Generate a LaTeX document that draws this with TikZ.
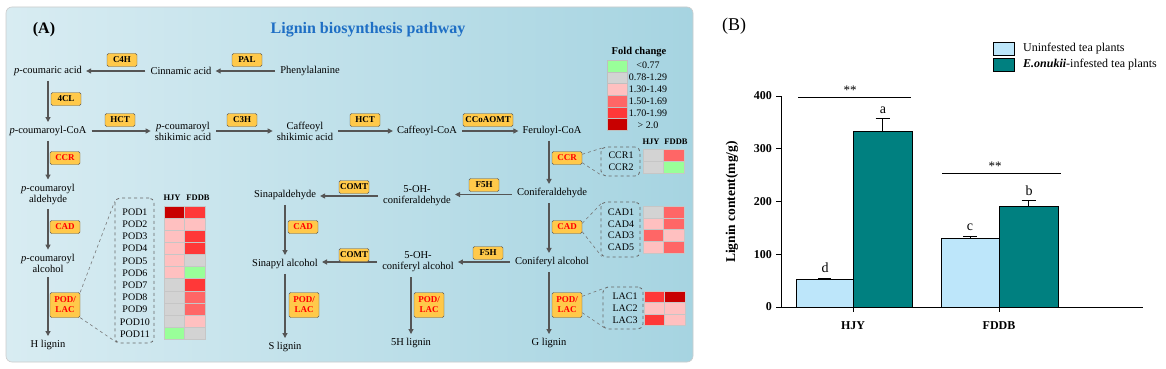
\documentclass[tikz,border=0pt]{standalone}
\usepackage{fontspec}
\setmainfont{Liberation Serif}
\usetikzlibrary{arrows.meta,calc}
\definecolor{fcG}{HTML}{99FF99}
\definecolor{fcN}{HTML}{D3D3D3}
\definecolor{fcP}{HTML}{FFC0C0}
\definecolor{fcM}{HTML}{FF6666}
\definecolor{fcR}{HTML}{FF3838}
\definecolor{fcD}{HTML}{C80000}
\definecolor{enzY}{HTML}{FFC94A}
\definecolor{arrG}{HTML}{555555}
\definecolor{ttl}{HTML}{1F6FC5}
\definecolor{bgL}{HTML}{D8ECF2}
\definecolor{bgR}{HTML}{A6D4E1}
\definecolor{uninf}{HTML}{BDE6FA}
\definecolor{infc}{HTML}{008080}
\newcommand\hmap[4]{%
  \foreach \ca/\cb [count=\ii from 0] in {#4} {
    \filldraw[fill=\ca, draw=gray!45, line width=0.4pt] (#1,{#2+\ii*#3}) rectangle ++(20.5,#3);
    \filldraw[fill=\cb, draw=gray!45, line width=0.4pt] ({#1+20.5},{#2+\ii*#3}) rectangle ++(20.5,#3);
  }}
\begin{document}
\begin{tikzpicture}[x=1pt,y=-1pt,
  met/.style={font=\fontsize{10.5}{11}\selectfont, align=center, inner sep=2pt},
  enz/.style={draw=arrG, fill=enzY, rounded corners=1.5pt, font=\bfseries\fontsize{9}{9.5}\selectfont,
     minimum width=30pt, minimum height=13pt, inner sep=1pt},
  enzr/.style={enz, text=red},
  pl/.style={enzr, minimum height=25pt, align=center, font=\bfseries\fontsize{9}{10}\selectfont},
  arr/.style={draw=arrG, line width=1.1pt, -{Triangle[length=5pt,width=5pt]}, shorten <=3pt, shorten >=2pt},
  dbox/.style={draw=arrG!90, dashed, line width=0.8pt, rounded corners=5pt, inner sep=0pt},
  dconn/.style={draw=arrG!80, dashed, line width=0.6pt},
  glab/.style={font=\fontsize{10}{10}\selectfont, inner sep=0pt},
  hdr/.style={font=\bfseries\fontsize{8.5}{9}\selectfont, inner sep=0pt},
  leg/.style={font=\fontsize{10}{10}\selectfont, inner sep=0pt},
  tick/.style={font=\bfseries\fontsize{12}{12}\selectfont, anchor=east, inner sep=0pt},
  bar/.style={draw=black, line width=0.8pt},
]
\useasboundingbox (0,0) rectangle (1166,369);
\fill[white] (0,0) rectangle (1166,369);
% ---------------- Panel A background
\shade[left color=bgL, right color=bgR, rounded corners=6pt] (6,7) rectangle (693,362);
\draw[gray!40, rounded corners=6pt, line width=0.6pt] (6,7) rectangle (693,362);
\node[font=\bfseries\fontsize{16}{18}\selectfont] (lblA) at (44,30) {(A)};
\node[font=\bfseries\fontsize{16}{18}\selectfont, text=ttl] (title) at (368,30) {Lignin biosynthesis pathway};

% metabolites
\node[met] (pca) at (48,71) {\textit{p}-coumaric acid};
\node[met] (cin) at (181,71) {Cinnamic acid};
\node[met] (phe) at (310,71) {Phenylalanine};
\node[met] (pcoa) at (48,131) {\textit{p}-coumaroyl-CoA};
\node[met] (pcs) at (183,131) {\textit{p}-coumaroyl\\shikimic acid};
\node[met] (cfs) at (305,131) {Caffeoyl\\shikimic acid};
\node[met] (cfcoa) at (427,131) {Caffeoyl-CoA};
\node[met] (frcoa) at (552,131) {Feruloyl-CoA};
\node[met] (pcald) at (48,194) {\textit{p}-coumaroyl\\aldehyde};
\node[met] (pcalc) at (48,263) {\textit{p}-coumaroyl\\alcohol};
\node[met] (hlig) at (48,345) {H lignin};
\node[met] (sinald) at (285,195) {Sinapaldehyde};
\node[met] (ohcald) at (417,196) {5-OH-\\coniferaldehyde};
\node[met] (conald) at (552,193) {Coniferaldehyde};
\node[met] (sinalc) at (285,264) {Sinapyl alcohol};
\node[met] (ohcalc) at (418,262) {5-OH-\\coniferyl alcohol};
\node[met] (conalc) at (552,262) {Coniferyl alcohol};
\node[met] (slig) at (285,347) {S lignin};
\node[met] (h5lig) at (411,343) {5H lignin};
\node[met] (glig) at (549,343) {G lignin};

% arrows
\draw[arr] (phe) -- (cin);
\draw[arr] (cin) -- (pca);
\draw[arr] (pca) -- (pcoa);
\draw[arr] (pcoa) -- (pcs);
\draw[arr] (pcs) -- (cfs);
\draw[arr] (cfs) -- (cfcoa);
\draw[arr] (cfcoa) -- (frcoa);
\draw[arr] (pcoa) -- (pcald);
\draw[arr] (pcald) -- (pcalc);
\draw[arr] (pcalc) -- (hlig);
\draw[arr] ([xshift=-3pt]frcoa.south) -- ([xshift=-3pt]conald.north);
\draw[arr] ([xshift=-3pt]conald.south) -- ([xshift=-3pt]conalc.north);
\draw[arr] ([xshift=-3pt]conalc.south) -- (glig.north);
\draw[arr] ([yshift=-1.5pt]conald.west) -- ([yshift=-1.5pt]conald.west -| ohcald.east);
\draw[arr] (ohcald.west) -- (ohcald.west -| sinald.east);
\draw[arr] (conalc.west) -- (ohcalc.east);
\draw[arr] (ohcalc.west) -- (ohcalc.west -| sinalc.east);
\draw[arr] (sinald) -- (sinalc);
\draw[arr] (sinalc) -- (slig);
\draw[arr] ([xshift=-7pt]ohcalc.south) -- (h5lig.north);

% enzymes
\node[enz] (e1) at (122,60) {C4H};
\node[enz] (e2) at (247,60) {PAL};
\node[enz] (e3) at (66,99) {4CL};
\node[enz] (e4) at (120,120) {HCT};
\node[enz] (e5) at (242,120) {C3H};
\node[enz] (e6) at (365,120) {HCT};
\node[enz, minimum width=50pt] (e7) at (488,120) {CCoAOMT};
\node[enzr] (e8) at (65,158) {CCR};
\node[enzr] (e9) at (65,227) {CAD};
\node[pl] (e10) at (65,305) {POD/\\LAC};
\node[enz] (e11) at (354,187) {COMT};
\node[enz] (e12) at (484,185) {F5H};
\node[enzr] (e13) at (303,227) {CAD};
\node[enz] (e14) at (354,255) {COMT};
\node[enz] (e15) at (488,253) {F5H};
\node[pl] (e16) at (304,305) {POD/\\LAC};
\node[pl] (e17) at (429,305) {POD/\\LAC};
\node[enzr] (e18) at (567,158) {CCR};
\node[enzr] (e19) at (567,227) {CAD};
\node[pl] (e20) at (567,305) {POD/\\LAC};

% ----- POD heatmap
\node[dbox, minimum width=39pt, minimum height=145pt] (podbox) at (134.5,270.5) {};
\draw[dconn] (e10.north east) -- ($(podbox.north west)+(0,4)$);
\draw[dconn] (e10.south east) -- ($(podbox.south west)+(2,-1)$);
\foreach \n [count=\k from 0] in {POD1,POD2,POD3,POD4,POD5,POD6,POD7,POD8,POD9,POD10,POD11}
  \node[glab] (pod\k) at (135,{212+\k*12.2}) {\n};
\node[hdr] (hpA) at (172,198) {HJY};
\node[hdr] (hpB) at (198,198) {FDDB};
\hmap{164}{206}{12.1}{fcD/fcR,fcP/fcP,fcP/fcR,fcP/fcR,fcP/fcN,fcP/fcG,fcN/fcR,fcN/fcM,fcN/fcM,fcN/fcP,fcG/fcN}

% ----- CCR heatmap
\node[dbox, minimum width=39pt, minimum height=29pt] (ccrbox) at (620.5,161.5) {};
\draw[dconn] ([yshift=-3pt]e18.north east) -- ($(ccrbox.north west)+(1,1.5)$);
\draw[dconn] ([yshift=2pt]e18.south east) -- ($(ccrbox.south west)+(1,-1)$);
\node[glab] (ccr1) at (621,155.5) {CCR1};
\node[glab] (ccr2) at (621,167.5) {CCR2};
\node[hdr] (hcA) at (651,142) {HJY};
\node[hdr] (hcB) at (676,142) {FDDB};
\hmap{643}{149}{12}{fcN/fcM,fcN/fcG}

% ----- CAD heatmap
\node[dbox, minimum width=39pt, minimum height=55pt] (cadbox) at (620.5,229.5) {};
\draw[dconn] ([yshift=-3pt]e19.north east) -- ($(cadbox.north west)+(1,1.5)$);
\draw[dconn] ([yshift=2pt]e19.south east) -- ($(cadbox.south west)+(1,-1)$);
\foreach \n [count=\k from 0] in {CAD1,CAD4,CAD3,CAD5}
  \node[glab] (cad\k) at (621,{212+\k*11.8}) {\n};
\hmap{643}{206}{11.75}{fcN/fcM,fcP/fcM,fcM/fcP,fcP/fcM}

% ----- LAC heatmap
\node[dbox, minimum width=40pt, minimum height=42pt] (lacbox) at (623,308) {};
\draw[dconn] ([yshift=-4pt]e20.north east) -- ($(lacbox.north west)+(2,1.5)$);
\draw[dconn] ([yshift=5pt]e20.south east) -- ($(lacbox.south west)+(2,-1.5)$);
\foreach \n [count=\k from 0] in {LAC1,LAC2,LAC3}
  \node[glab] (lac\k) at (625,{296+\k*12.2}) {\n};
\hmap{644}{291}{11.5}{fcR/fcD,fcP/fcP,fcR/fcP}

% ----- Legend
\node[font=\bfseries\fontsize{10.5}{11}\selectfont, inner sep=0pt] (fct) at (639,52) {Fold change};
\foreach \c/\t [count=\k from 0] in {fcG/{<0.77},fcN/{0.78-1.29},fcP/{1.30-1.49},fcM/{1.50-1.69},fcR/{1.70-1.99},fcD/{> 2.0}} {
  \filldraw[fill=\c, draw=gray!50, line width=0.4pt] (607,{60+\k*11.7}) rectangle ++(20.5,11.7);
  \node[leg] (fl\k) at (648,{65.5+\k*11.9}) {\t};
}

% ---------------- Panel B
\node[font=\fontsize{18}{20}\selectfont] (lblB) at (734,26) {(B)};
\filldraw[fill=uninf, bar] (993,42) rectangle (1014,55);
\filldraw[fill=infc, bar] (993,58) rectangle (1014,71);
\node[font=\fontsize{12}{13}\selectfont, anchor=west, inner sep=0pt] (lg1) at (1023,48.5) {Uninfested tea plants};
\node[font=\fontsize{12}{13}\selectfont, anchor=west, inner sep=0pt] (lg2) at (1023,64.5) {\textbf{\textit{E.onukii}}-infested tea plants};

% bars
\filldraw[fill=uninf, bar] (796,307) rectangle (853,279.6);
\filldraw[fill=infc, bar] (853,307) rectangle (912,131.3);
\filldraw[fill=uninf, bar] (941,307) rectangle (999,238.4);
\filldraw[fill=infc, bar] (999,307) rectangle (1058,206.8);
% error bars
\draw[line width=0.9pt] (824.5,279.6) -- (824.5,278.6) (818,278.6) -- (831,278.6);
\draw[line width=0.9pt] (882.5,131.3) -- (882.5,118) (875.5,118) -- (889.5,118);
\draw[line width=0.9pt] (970,238.4) -- (970,236.6) (963,236.6) -- (977,236.6);
\draw[line width=0.9pt] (1028.5,206.8) -- (1028.5,200.6) (1021.5,200.6) -- (1035.5,200.6);

% axes
\draw[line width=1pt] (781,96) -- (781,307);
\draw[line width=1pt] (776,307) -- (1143,307);
\foreach \v/\y in {0/307,100/254.25,200/201.5,300/148.75,400/96} {
  \draw[line width=1pt] (776,\y) -- (781,\y);
  \node[tick] (t\v) at (772,\y) {\v};
}
\draw[line width=1pt] (853,307) -- (853,312);
\draw[line width=1pt] (999,307) -- (999,312);
\node[font=\bfseries\fontsize{12}{12}\selectfont] (xl1) at (853,326) {HJY};
\node[font=\bfseries\fontsize{12}{12}\selectfont] (xl2) at (999,326) {FDDB};
\node[font=\bfseries\fontsize{13.5}{14}\selectfont, rotate=90] (ylab) at (732,202) {Lignin content(mg/g)};

% letters
\node[font=\fontsize{14}{14}\selectfont] (ld) at (825,268) {d};
\node[font=\fontsize{14}{14}\selectfont] (la) at (883,110) {a};
\node[font=\fontsize{14}{14}\selectfont] (lc) at (970,227) {c};
\node[font=\fontsize{14}{14}\selectfont] (lb) at (1029,191) {b};

% significance
\draw[line width=0.9pt] (798,97) -- (911,97);
\node[font=\fontsize{13}{13}\selectfont] (s1) at (850,90) {**};
\draw[line width=0.9pt] (942,173) -- (1061,173);
\node[font=\fontsize{13}{13}\selectfont] (s2) at (995,166) {**};
\end{tikzpicture}
\end{document}
